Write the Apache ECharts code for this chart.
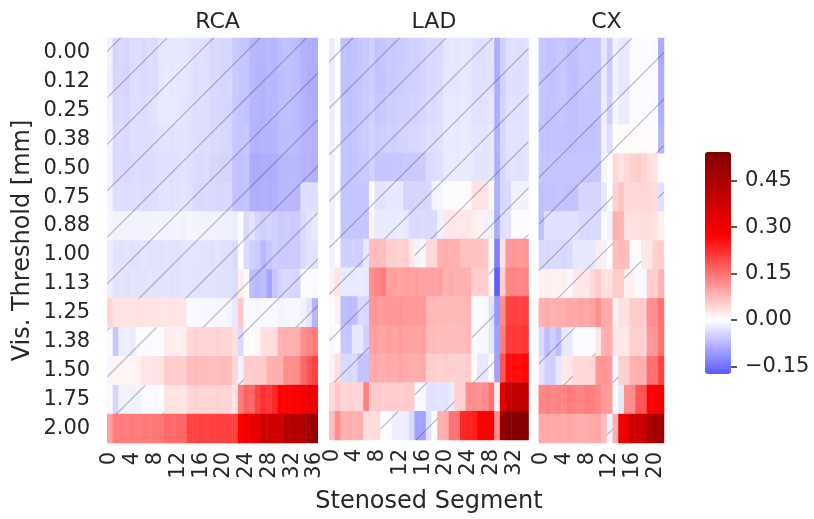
<!DOCTYPE html>
<html><head><meta charset="utf-8">
<script src="https://cdn.jsdelivr.net/npm/echarts@6/dist/echarts.min.js"></script>
<style>html,body{margin:0;padding:0;background:#fff}#c{width:814px;height:519px}</style>
</head><body><div id="c"></div>
<script>
const thresholds = ['0.00','0.12','0.25','0.38','0.50','0.75','0.88','1.00','1.13','1.25','1.38','1.50','1.75','2.00'];
const colorbarTickMin = -0.15, colorbarTickMax = 0.45, colorbarTickStep = 0.15;
const vmin = -0.175, vmax = 0.543;

const rcaValues = [
[-0.015,-0.045,-0.042,-0.045,-0.038,-0.036,-0.040,-0.036,-0.038,-0.026,-0.024,-0.025,-0.024,-0.026,-0.028,-0.034,-0.032,-0.035,-0.042,-0.040,-0.044,-0.042,-0.058,-0.060,-0.062,-0.075,-0.078,-0.080,-0.076,-0.078,-0.070,-0.066,-0.068,-0.072,-0.082,-0.085,-0.088],
[-0.016,-0.044,-0.043,-0.046,-0.037,-0.037,-0.039,-0.035,-0.039,-0.025,-0.023,-0.026,-0.025,-0.027,-0.029,-0.035,-0.033,-0.034,-0.041,-0.041,-0.045,-0.043,-0.057,-0.061,-0.063,-0.076,-0.079,-0.081,-0.075,-0.077,-0.069,-0.067,-0.069,-0.071,-0.081,-0.086,-0.087],
[-0.014,-0.042,-0.040,-0.043,-0.036,-0.035,-0.038,-0.034,-0.030,-0.024,-0.022,-0.024,-0.026,-0.028,-0.030,-0.036,-0.034,-0.036,-0.040,-0.042,-0.044,-0.044,-0.058,-0.062,-0.064,-0.078,-0.080,-0.082,-0.078,-0.076,-0.070,-0.068,-0.070,-0.072,-0.080,-0.084,-0.086],
[-0.012,-0.040,-0.038,-0.041,-0.035,-0.034,-0.036,-0.035,-0.033,-0.030,-0.029,-0.031,-0.030,-0.029,-0.031,-0.036,-0.037,-0.035,-0.040,-0.039,-0.042,-0.041,-0.060,-0.061,-0.059,-0.080,-0.082,-0.079,-0.081,-0.078,-0.070,-0.071,-0.069,-0.072,-0.080,-0.079,-0.082],
[-0.012,-0.041,-0.039,-0.040,-0.038,-0.037,-0.039,-0.038,-0.036,-0.032,-0.031,-0.033,-0.032,-0.030,-0.033,-0.038,-0.039,-0.037,-0.045,-0.044,-0.046,-0.045,-0.065,-0.066,-0.064,-0.088,-0.090,-0.086,-0.088,-0.085,-0.075,-0.076,-0.074,-0.077,-0.082,-0.080,-0.083],
[-0.012,-0.036,-0.035,-0.037,-0.036,-0.034,-0.037,-0.035,-0.036,-0.030,-0.029,-0.031,-0.030,-0.028,-0.031,-0.040,-0.041,-0.039,-0.040,-0.042,-0.041,-0.040,-0.065,-0.066,-0.064,-0.085,-0.087,-0.084,-0.086,-0.083,-0.075,-0.076,-0.074,-0.077,-0.035,-0.034,-0.036],
[-0.010,-0.014,-0.013,-0.015,-0.014,-0.013,-0.015,-0.014,-0.012,-0.013,-0.014,-0.013,-0.012,-0.014,-0.010,-0.012,-0.013,-0.014,-0.015,-0.014,-0.016,-0.017,-0.020,-0.005,-0.040,-0.030,-0.045,-0.050,-0.045,-0.050,-0.055,-0.052,-0.056,-0.054,-0.040,-0.030,-0.025],
[-0.020,-0.030,-0.031,-0.029,-0.032,-0.030,-0.028,-0.031,-0.030,-0.032,-0.029,-0.030,-0.031,-0.028,-0.027,-0.029,-0.030,-0.031,-0.032,-0.030,-0.033,-0.034,-0.040,0.000,-0.040,-0.050,-0.055,-0.075,-0.060,-0.050,-0.055,-0.056,-0.054,-0.055,-0.040,-0.030,-0.030],
[-0.020,-0.031,-0.030,-0.032,-0.029,-0.031,-0.030,-0.028,-0.031,-0.030,-0.029,-0.031,-0.030,-0.028,-0.029,-0.030,-0.031,-0.030,-0.029,-0.031,-0.032,-0.033,-0.038,0.020,0.000,-0.070,-0.075,-0.070,-0.095,-0.060,-0.045,-0.040,-0.042,-0.045,-0.005,0.000,-0.002],
[0.045,0.030,0.031,0.029,0.030,0.032,0.030,0.029,0.031,0.028,0.027,0.029,0.028,0.027,-0.006,-0.008,-0.007,-0.009,-0.008,-0.010,-0.009,-0.012,-0.025,0.060,-0.006,-0.008,-0.010,-0.007,-0.008,-0.009,-0.012,-0.010,-0.008,-0.009,-0.015,-0.030,-0.080],
[-0.005,-0.060,-0.020,-0.018,-0.022,-0.005,-0.004,-0.006,-0.003,-0.005,0.018,0.020,0.017,0.019,0.045,0.048,0.044,0.046,0.043,0.047,0.045,0.042,0.035,-0.040,-0.005,0.005,0.010,0.035,0.033,0.036,0.085,0.088,0.083,0.086,0.120,0.130,0.140],
[-0.010,0.012,0.013,0.011,0.012,0.014,0.028,0.027,0.029,0.030,0.055,0.053,0.056,0.054,0.070,0.072,0.069,0.071,0.068,0.070,0.073,0.069,0.045,-0.015,0.055,0.053,0.057,0.056,0.085,0.087,0.084,0.120,0.118,0.122,0.160,0.180,0.200],
[-0.005,-0.045,-0.015,-0.014,-0.016,-0.013,-0.005,-0.004,-0.006,-0.003,0.030,0.028,0.031,0.029,0.045,0.047,0.044,0.046,0.043,0.047,0.045,0.044,0.030,0.140,0.170,0.160,0.200,0.220,0.210,0.230,0.270,0.268,0.272,0.275,0.290,0.310,0.300],
[0.100,0.140,0.142,0.138,0.141,0.139,0.143,0.140,0.145,0.148,0.160,0.158,0.162,0.160,0.200,0.198,0.202,0.199,0.201,0.205,0.203,0.206,0.204,0.270,0.300,0.320,0.330,0.370,0.372,0.368,0.375,0.430,0.428,0.432,0.435,0.470,0.500]
];

const ladValues = [
[-0.022,0.000,-0.065,-0.068,-0.065,-0.060,-0.058,-0.050,-0.065,-0.062,-0.055,-0.058,-0.055,-0.053,-0.048,-0.050,-0.046,-0.040,-0.042,-0.040,-0.028,-0.026,-0.028,-0.025,-0.025,-0.033,-0.035,-0.032,-0.030,-0.090,-0.050,-0.035,-0.033,-0.035,-0.032],
[-0.021,0.000,-0.066,-0.067,-0.064,-0.061,-0.057,-0.051,-0.064,-0.063,-0.056,-0.057,-0.054,-0.052,-0.049,-0.049,-0.045,-0.041,-0.041,-0.039,-0.027,-0.027,-0.029,-0.024,-0.026,-0.032,-0.034,-0.033,-0.031,-0.088,-0.049,-0.034,-0.034,-0.036,-0.031],
[-0.020,0.000,-0.064,-0.066,-0.063,-0.059,-0.056,-0.049,-0.060,-0.058,-0.052,-0.054,-0.050,-0.050,-0.046,-0.047,-0.044,-0.038,-0.040,-0.036,-0.024,-0.023,-0.026,-0.022,-0.024,-0.030,-0.032,-0.030,-0.028,-0.086,-0.046,-0.032,-0.031,-0.033,-0.030],
[-0.018,0.000,-0.062,-0.064,-0.062,-0.057,-0.055,-0.046,-0.054,-0.052,-0.048,-0.050,-0.047,-0.046,-0.042,-0.043,-0.040,-0.034,-0.036,-0.032,-0.022,-0.021,-0.024,-0.020,-0.022,-0.028,-0.029,-0.028,-0.026,-0.084,-0.042,-0.030,-0.030,-0.031,-0.029],
[-0.018,0.000,-0.062,-0.064,-0.061,-0.058,-0.056,-0.047,-0.062,-0.060,-0.061,-0.059,-0.060,-0.058,-0.057,-0.056,-0.055,-0.040,-0.038,-0.036,-0.022,-0.020,-0.023,-0.021,-0.023,-0.028,-0.030,-0.029,-0.027,-0.086,-0.044,-0.031,-0.030,-0.032,-0.030],
[-0.018,0.000,-0.062,-0.063,-0.061,-0.060,-0.062,-0.006,-0.030,-0.030,-0.025,-0.024,-0.026,-0.045,-0.046,-0.044,-0.045,-0.043,-0.012,-0.010,-0.003,-0.002,-0.003,0.005,0.004,0.030,0.031,0.029,-0.005,-0.085,-0.045,-0.040,-0.015,-0.016,-0.014],
[-0.018,0.000,-0.062,-0.061,-0.063,-0.060,-0.061,0.015,-0.022,-0.021,-0.023,-0.022,-0.020,-0.024,-0.040,-0.041,-0.039,-0.040,-0.038,-0.015,0.025,0.026,0.024,0.025,0.026,0.020,0.015,-0.015,-0.015,-0.090,-0.035,-0.030,-0.003,-0.002,-0.003],
[-0.015,0.000,-0.050,-0.052,-0.049,-0.051,-0.025,0.070,0.072,0.068,0.050,0.052,0.049,0.051,0.025,-0.012,-0.010,0.040,0.042,0.085,0.087,0.084,0.086,0.065,0.066,0.064,0.065,0.063,-0.003,-0.135,0.030,0.110,0.112,0.108,0.111],
[0.015,0.030,-0.022,-0.021,-0.023,-0.020,-0.022,0.120,0.130,0.140,0.100,0.102,0.098,0.101,0.099,0.103,0.100,0.097,0.099,0.101,0.085,0.087,0.084,0.086,0.083,0.055,0.054,0.056,-0.003,-0.170,0.050,0.130,0.132,0.128,0.131],
[-0.003,0.015,-0.070,-0.072,-0.068,-0.040,-0.042,0.110,0.112,0.108,0.111,0.109,0.113,0.110,0.107,0.109,0.111,0.075,0.077,0.074,0.076,0.073,0.075,0.074,0.076,-0.006,-0.005,-0.007,-0.030,-0.110,0.120,0.200,0.202,0.198,0.205],
[-0.008,0.000,-0.060,-0.062,-0.025,-0.024,-0.050,0.100,0.102,0.098,0.101,0.099,0.103,0.100,0.097,0.099,0.101,0.072,0.074,0.071,0.073,0.070,0.072,0.071,0.073,-0.008,-0.007,-0.009,-0.025,-0.100,0.135,0.210,0.212,0.208,0.215],
[0.015,0.035,-0.040,-0.042,-0.039,-0.065,-0.064,0.090,0.092,0.088,0.091,0.089,0.093,0.090,0.087,0.089,0.091,0.050,0.052,0.049,0.051,0.048,0.050,0.049,0.051,-0.003,-0.025,-0.024,-0.003,-0.100,0.180,0.260,0.262,0.258,0.265],
[0.040,0.060,0.045,0.047,0.044,0.046,0.135,0.055,0.057,0.054,0.056,0.053,0.055,0.054,0.056,-0.008,-0.007,-0.030,-0.031,-0.029,-0.030,-0.020,0.050,0.052,0.120,0.122,0.118,0.121,0.150,0.015,0.320,0.400,0.402,0.398,0.405],
[0.070,0.120,0.085,0.087,0.084,0.086,0.037,0.036,0.038,0.000,0.001,-0.018,-0.017,-0.019,-0.040,-0.100,-0.098,-0.030,0.000,0.085,0.087,0.150,0.152,0.230,0.232,0.240,0.270,0.272,0.275,0.120,0.500,0.530,0.532,0.528,0.535]
];

const cxValues = [
[-0.060,-0.065,-0.065,-0.060,-0.060,-0.068,-0.068,-0.060,-0.060,-0.062,-0.060,-0.025,-0.055,-0.015,-0.025,-0.025,-0.005,-0.003,-0.005,-0.003,-0.006,-0.090],
[-0.061,-0.064,-0.066,-0.061,-0.059,-0.067,-0.069,-0.061,-0.059,-0.063,-0.061,-0.024,-0.054,-0.014,-0.026,-0.024,-0.004,-0.002,-0.004,-0.002,-0.005,-0.088],
[-0.062,-0.066,-0.064,-0.062,-0.061,-0.066,-0.067,-0.062,-0.061,-0.061,-0.062,-0.020,-0.050,-0.010,-0.020,-0.020,-0.003,-0.002,-0.003,0.000,-0.004,-0.085],
[-0.065,-0.066,-0.064,-0.065,-0.064,-0.066,-0.065,-0.064,-0.065,-0.066,-0.064,-0.015,-0.035,-0.003,0.005,0.004,0.006,0.005,0.004,0.006,0.005,-0.080],
[-0.062,-0.063,-0.061,-0.062,-0.063,-0.062,-0.061,-0.063,-0.062,-0.061,-0.062,-0.010,0.000,0.040,0.030,0.040,0.050,0.055,0.045,0.035,0.030,-0.003],
[-0.068,-0.064,-0.065,-0.063,-0.064,-0.065,-0.064,-0.045,-0.046,-0.044,-0.045,-0.025,0.000,0.050,0.065,0.040,0.041,0.039,0.042,0.040,0.038,-0.033],
[-0.068,-0.032,-0.033,-0.031,-0.032,-0.033,-0.031,-0.040,-0.041,-0.039,-0.040,0.000,-0.015,0.085,0.080,0.033,0.034,0.032,0.035,0.033,0.031,0.015],
[-0.040,-0.041,-0.039,-0.040,-0.042,-0.040,-0.025,-0.024,-0.026,-0.025,0.020,-0.015,0.000,0.070,0.072,0.068,-0.003,-0.002,0.025,0.026,0.050,0.052],
[0.015,0.016,0.014,0.015,0.016,-0.008,0.025,0.026,0.024,0.040,0.055,0.033,0.034,0.055,0.056,0.015,0.016,-0.008,-0.007,0.055,0.056,0.085],
[0.085,0.090,0.082,0.088,0.086,0.095,0.090,0.098,0.092,0.100,0.120,0.090,0.092,0.015,0.033,0.034,0.055,0.056,0.054,0.120,0.122,0.150],
[-0.040,-0.068,-0.050,-0.068,-0.025,-0.024,-0.004,-0.003,-0.005,-0.004,0.025,0.085,0.087,0.025,0.026,0.024,0.050,0.052,0.049,0.110,0.112,0.150],
[-0.030,-0.050,-0.051,-0.025,0.025,0.026,0.040,0.041,0.039,0.042,0.110,0.112,0.108,-0.005,0.050,0.051,0.085,0.087,0.084,0.150,0.152,0.200],
[0.130,0.135,0.128,0.132,0.130,0.140,0.134,0.131,0.138,0.136,0.128,0.110,0.105,0.000,-0.025,0.120,0.122,0.180,0.182,0.270,0.280,0.285],
[0.090,0.092,0.088,0.091,0.089,0.093,0.090,0.087,0.089,0.091,0.095,0.070,-0.015,0.085,0.300,0.305,0.380,0.382,0.385,0.460,0.465,0.470]
];

// hatch (non-significance) masks: 1 = hatched cell
const rcaMask = [
'1111111111111111111111111111111111111','1111111111111111111111111111111111111',
'1111111111111111111111111111111111111','1111111111111111111111111111111111111',
'1111111111111111111111111111111111111','1111111111111111111111111111111111111',
'1111111111111111111111111111111111111','1111111111111111111111111111111111111',
'1111111111111111111111111111111111111',
'0000000000000011111111101111111111111',
'1111111111000000000000011110000000000',
'1111110000000000000000010000000000000',
'1111111111000000000000000000000000000',
'0000000000000000000000000000000000000'
];
const ladMask = [
'11111111111111111111111111111111111','11111111111111111111111111111111111',
'11111111111111111111111111111111111','11111111111111111111111111111111111',
'11111111111111111111111111111111111','11111111111111111111111111111111111',
'11111111111111111111111111111111111',
'11111110000000011000000000001000000',
'11111110000000000000000000001000000',
'11111110000000000000000001111000000',
'11111110000000000000000001111000000',
'11111110000000000000000001111000000',
'00000000000000011111110000000000000',
'00000000011111111110000000000000000'
];
const cxMask = [
'1111111111111111111111','1111111111111111111111',
'1111111111111111111111','1111111111111111111111',
'1111111111111000000001','1111111111111000000001',
'1111111111111000000000',
'1111111111111000110000',
'1111111111000001111000',
'0000000000000000000000',
'1111111111000000000000',
'1111110000000100000000',
'0000000000000110000000',
'0000000000001000000000'
];

// seismic colormap, centred at 0 (symmetric limits), restricted to data range
function seismic(t){
  const s=[[0,0,0,0.3],[0.25,0,0,1],[0.5,1,1,1],[0.75,1,0,0],[1,0.5,0,0]];
  t=Math.max(0,Math.min(1,t));
  for(let i=0;i<4;i++){const a=s[i],b=s[i+1];if(t<=b[0]){const f=(t-a[0])/(b[0]-a[0]);
    return 'rgb('+[1,2,3].map(k=>Math.round(255*(a[k]+(b[k]-a[k])*f))).join(',')+')';}}
}
const vabs=Math.max(-vmin,vmax);
const cstops=[];for(let i=0;i<=100;i++){const v=vmin+(vmax-vmin)*i/100;cstops.push(seismic(0.5+v/(2*vabs)));}

// hatch pattern
const SP=46.5, PH=19, TS=93;
const pc=document.createElement('canvas');pc.width=TS;pc.height=TS;
const g=pc.getContext('2d');g.strokeStyle='rgba(40,40,70,0.32)';g.lineWidth=1.2;
for(let v=PH-SP;v<=2*TS+SP;v+=SP){g.beginPath();g.moveTo(v+5,-5);g.lineTo(-5,v+5);g.stroke();}
const hatchFill={image:pc,repeat:'repeat'};

const FONT='DejaVu Sans', TXT='#262626';
const panels=[
  {name:'RCA',values:rcaValues,mask:rcaMask,left:107.2,width:210.6},
  {name:'LAD',values:ladValues,mask:ladMask,left:329.3,width:199.3},
  {name:'CX',values:cxValues,mask:cxMask,left:538.8,width:125.2}
];
const TOP=38,H=405;

const grid=[],xAxis=[],yAxis=[],series=[],title=[];
panels.forEach((p,i)=>{
  const n=p.values[0].length;
  grid.push({left:p.left,top:TOP,width:p.width,height:H});
  xAxis.push({type:'category',gridIndex:i,data:Array.from({length:n},(_,k)=>String(k)),
    axisLine:{show:false},axisTick:{show:false},splitLine:{show:false},
    axisLabel:{interval:3,rotate:90,fontSize:21,color:TXT,fontFamily:FONT,margin:9},
    name:i===1?'Stenosed Segment':'',nameLocation:'middle',nameGap:50,
    nameTextStyle:{fontSize:24,color:TXT,fontFamily:FONT}});
  yAxis.push({type:'category',gridIndex:i,data:thresholds,inverse:true,
    axisLine:{show:false},axisTick:{show:false},splitLine:{show:false},
    axisLabel:{show:i===0,fontSize:21,color:TXT,fontFamily:FONT,margin:17},
    name:i===0?'Vis. Threshold [mm]':'',nameLocation:'middle',nameGap:72,
    nameTextStyle:{fontSize:24,color:TXT,fontFamily:FONT}});
  const data=[];p.values.forEach((row,r)=>row.forEach((v,c)=>data.push([c,r,v])));
  series.push({type:'heatmap',xAxisIndex:i,yAxisIndex:i,data:data,progressive:0,emphasis:{disabled:true},silent:true});
  title.push({text:p.name,left:p.left+p.width/2,top:6,textAlign:'center',
    textStyle:{fontSize:22,fontWeight:'normal',color:TXT,fontFamily:FONT}});
});
panels.forEach((p,i)=>{
  const hd=[];p.mask.forEach((row,r)=>{for(let c=0;c<row.length;c++){if(row[c]==='1')hd.push([c,r]);}});
  series.push({type:'custom',xAxisIndex:i,yAxisIndex:i,data:hd,silent:true,z:5,
    renderItem:function(params,api){
      const pt=api.coord([api.value(0),api.value(1)]);const sz=api.size([1,1]);
      return {type:'rect',shape:{x:pt[0]-sz[0]/2,y:pt[1]-sz[1]/2,width:sz[0],height:sz[1]},style:{fill:hatchFill}};
    }});
});
// colorbar tick axis: grid spans the -0.15 .. 0.45 part of the colour bar
const cbTop=152, cbH=222;
const pxPerUnit=cbH/(vmax-vmin);
const axTop=cbTop+(vmax-colorbarTickMax)*pxPerUnit;
const axH=(colorbarTickMax-colorbarTickMin)*pxPerUnit;
grid.push({left:705,top:axTop,width:26,height:axH});
xAxis.push({type:'value',gridIndex:3,show:false,min:1,max:2,axisLine:{onZero:false}});
yAxis.push({type:'value',gridIndex:3,position:'right',min:colorbarTickMin,max:colorbarTickMax,interval:colorbarTickStep,
  z:10,axisLine:{show:false,onZero:false},splitLine:{show:false},
  axisTick:{show:true,inside:false,length:6,lineStyle:{color:TXT,width:1.5}},
  axisLabel:{fontSize:21,color:TXT,fontFamily:FONT,margin:14,
    formatter:v=>(v<0?'\u2212':'')+Math.abs(v).toFixed(2)}});
series.push({type:'line',xAxisIndex:3,yAxisIndex:3,data:[[1.5,0]],silent:true,showSymbol:false,lineStyle:{opacity:0}});

const chart=echarts.init(document.getElementById('c'),null,{renderer:'canvas'});
chart.setOption({
  animation:false,backgroundColor:'#fff',title:title,grid:grid,xAxis:xAxis,yAxis:yAxis,
  visualMap:{type:'continuous',min:vmin,max:vmax,seriesIndex:[0,1,2],inRange:{color:cstops},
    calculable:false,orient:'vertical',left:705,top:cbTop,itemWidth:26,itemHeight:cbH,padding:0,
    text:null,hoverLink:false},
  series:series
});
</script></body></html>
